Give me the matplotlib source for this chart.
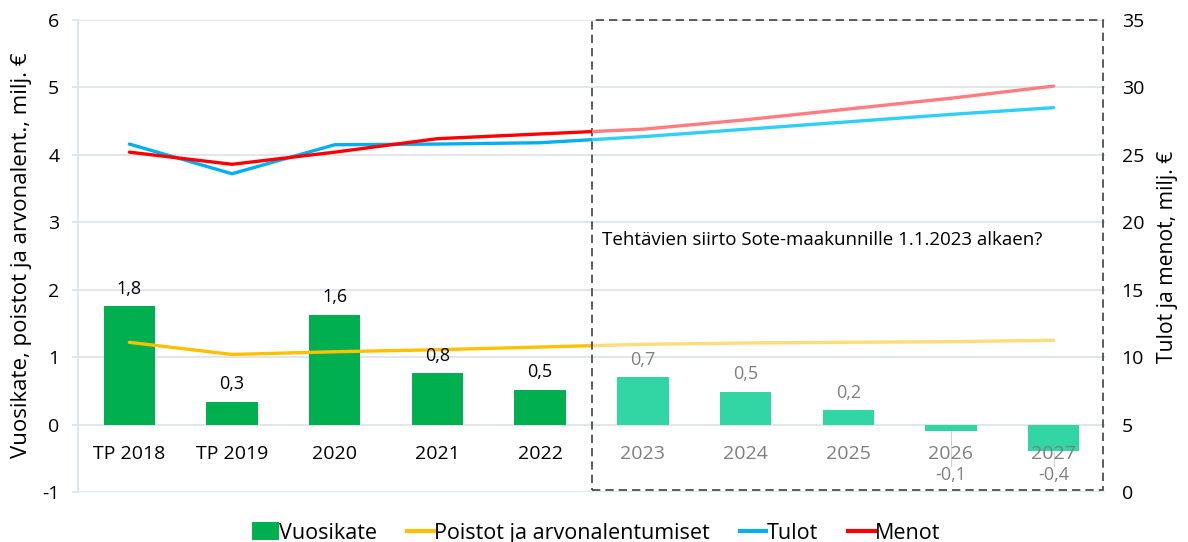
import matplotlib
matplotlib.use("Agg")
import matplotlib.pyplot as plt
from matplotlib.patches import Rectangle, Patch
from matplotlib.lines import Line2D

plt.rcParams['font.family'] = ['Open Sans', 'DejaVu Sans']
plt.rcParams['axes.unicode_minus'] = False

# ---- data -------------------------------------------------------------
categories = ["TP 2018", "TP 2019", "2020", "2021", "2022",
              "2023", "2024", "2025", "2026", "2027"]
vuosikate = [1.76, 0.34, 1.63, 0.76, 0.52, 0.70, 0.49, 0.21, -0.09, -0.39]
poistot = [1.22, 1.04, 1.08, 1.11, 1.15, 1.19, 1.21, 1.22, 1.23, 1.25]
tulot = [25.8, 23.6, 25.75, 25.8, 25.9, 26.35, 26.9, 27.45, 28.0, 28.5]
menot = [25.2, 24.3, 25.2, 26.2, 26.55, 26.9, 27.6, 28.4, 29.2, 30.1]
n_actual = 5          # TP 2018 ... 2022; the rest is the plan period
note = "Tehtävien siirto Sote-maakunnille 1.1.2023 alkaen?"

# ---- colours ----------------------------------------------------------
GREEN, GREEN_L = "#00B050", "#31D6A4"
YELLOW, YELLOW_L = "#FFC000", "#FFDC7A"
BLUE, BLUE_L = "#00B0F0", "#2FD0F5"
RED, RED_L = "#FF0000", "#FF7C80"
GREY_TXT = "#7F7F7F"
GRID = "#DCE1E8"

W, H = 1188, 542
fig = plt.figure(figsize=(W / 100, H / 100), dpi=100)
ax = fig.add_axes([78 / W, 1 - 492 / H, (1105 - 78) / W, (492 - 20) / H])
ax2 = ax.twinx()

x = list(range(len(categories)))
split = n_actual - 0.5

# bars
bar_cols = [GREEN if i < n_actual else GREEN_L for i in x]
ax.bar(x, vuosikate, width=0.5, color=bar_cols, zorder=2)

# value labels
for i, v in enumerate(vuosikate):
    txt = f"{v:.1f}".replace(".", ",")
    col = "black" if i < n_actual else GREY_TXT
    if v >= 0:
        ax.annotate(txt, (i, v), xytext=(0, 12.5), textcoords="offset points",
                    ha="center", va="center", fontsize=13, color=col, zorder=5)
    else:
        ax.plot([i, i], [v - 0.01, -0.62], color="#D0D0D0", lw=0.8, zorder=1)
        ax.text(i, -0.75, txt, ha="center", va="center", fontsize=13,
                color=col, zorder=5)

# category labels
for i, c in enumerate(categories):
    col = "black" if i < n_actual else GREY_TXT
    ax.text(i, -0.43, c, ha="center", va="center", fontsize=14, color=col, zorder=4)


def split_line(axis, ys, dark, light):
    for col, (x0, w) in ((dark, (-1, split + 1)), (light, (split, 20))):
        ln, = axis.plot(x, ys, color=col, lw=2.4, solid_capstyle="round", zorder=3)
        clip = Rectangle((x0, -1000), w, 3000, transform=axis.transData)
        ln.set_clip_path(clip)


split_line(ax, poistot, YELLOW, YELLOW_L)
split_line(ax2, tulot, BLUE, BLUE_L)
split_line(ax2, menot, RED, RED_L)

# plan-period frame
ax.add_patch(Rectangle((split, -0.97), 9.48 - split, 6.97, fill=False,
                       ls=(0, (5, 3)), lw=1.2, edgecolor="#404040",
                       clip_on=False, zorder=6))
ax.text(4.6, 2.73, note, ha="left", va="center", fontsize=13.5, zorder=6)

# axes styling
ax.set_xlim(-0.5, 9.5)
ax.set_ylim(-1, 6)
ax.set_yticks(range(-1, 7))
ax.set_xticks([])
ax.grid(axis="y", color=GRID, lw=1.2, zorder=0)
ax.set_axisbelow(True)
for s in ("top", "right", "bottom"):
    ax.spines[s].set_visible(False)
ax.spines["left"].set_color(GRID)
ax.spines["left"].set_linewidth(1.2)
ax.tick_params(axis="y", length=4.5, color=GRID, width=1.2, labelsize=14, pad=9)

ax2.set_ylim(0, 35)
ax2.set_yticks(range(0, 36, 5))
for s in ax2.spines.values():
    s.set_visible(False)
ax2.tick_params(axis="y", length=0, labelsize=14, pad=12)

# axis titles
fig.text(22 / W, 1 - 255 / H, "Vuosikate, poistot ja arvonalent., milj. €",
         rotation=90, ha="center", va="center", fontsize=16)
fig.text(1168 / W, 1 - 257 / H, "Tulot ja menot, milj. €",
         rotation=90, ha="center", va="center", fontsize=15.2)

# legend
handles = [Patch(facecolor=GREEN),
           Line2D([], [], color=YELLOW, lw=3),
           Line2D([], [], color=BLUE, lw=3),
           Line2D([], [], color=RED, lw=3)]
labels = ["Vuosikate", "Poistot ja arvonalentumiset", "Tulot", "Menot"]
fig.legend(handles, labels, loc="center", bbox_to_anchor=(596 / W, 1 - 533 / H),
           ncol=4, frameon=False, fontsize=15.5, handlelength=1.25,
           handletextpad=0.0, columnspacing=1.4, handleheight=0.9)

fig.savefig("out.png", dpi=100)
